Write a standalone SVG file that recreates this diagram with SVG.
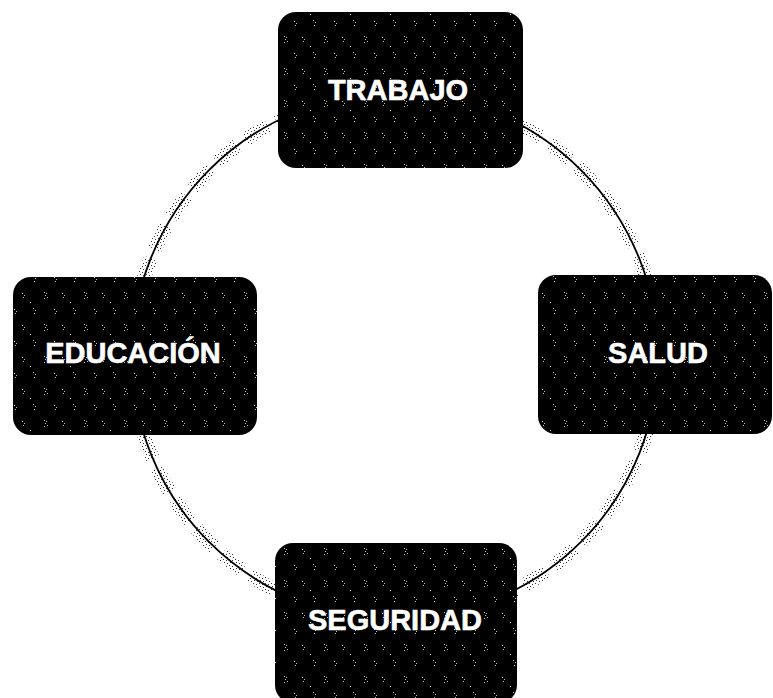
<svg xmlns="http://www.w3.org/2000/svg" width="773" height="698" viewBox="0 0 773 698">
  <defs>
    <pattern id="speck" width="40" height="32" patternUnits="userSpaceOnUse">
      <rect x="4" y="4" width="1" height="1" fill="#fff"/>
      <rect x="6" y="5" width="1" height="1" fill="#fff"/>
      <rect x="5" y="7" width="1" height="1" fill="#fff"/>
      <rect x="7" y="9" width="1" height="1" fill="#fff"/>
      <rect x="4" y="10" width="1" height="1" fill="#fff"/>
      <rect x="22" y="5" width="1" height="1" fill="#fff"/>
      <rect x="24" y="7" width="1" height="1" fill="#fff"/>
      <rect x="23" y="9" width="1" height="1" fill="#fff"/>
      <rect x="14" y="21" width="1" height="1" fill="#fff"/>
      <rect x="16" y="23" width="1" height="1" fill="#fff"/>
      <rect x="15" y="25" width="1" height="1" fill="#fff"/>
      <rect x="33" y="20" width="1" height="1" fill="#fff"/>
      <rect x="35" y="22" width="1" height="1" fill="#fff"/>
      <rect x="34" y="25" width="1" height="1" fill="#fff"/>
      <rect x="30" y="14" width="1" height="1" fill="#fff"/>
    </pattern>
    <pattern id="halo" width="6" height="6" patternUnits="userSpaceOnUse">
      <rect x="1" y="1" width="1" height="1" fill="#333"/>
      <rect x="4" y="2" width="1" height="1" fill="#333"/>
      <rect x="2" y="4" width="1" height="1" fill="#333"/>
      <rect x="5" y="5" width="1" height="1" fill="#333"/>
    </pattern>
  </defs>
  <style>
    .box { fill: #000; }
    .tex { fill: url(#speck); opacity: 0.75; }
    .lbl { font-family: "Liberation Sans", Arial, sans-serif; font-weight: bold; font-size: 29px; fill: #fff; text-anchor: middle; stroke: #fff; stroke-width: 0.6; }
  </style>
  <rect width="773" height="698" fill="#fff"/>
  <g id="connectors">
    <circle cx="395" cy="356" r="263" fill="none" stroke="url(#halo)" stroke-width="14" stroke-dasharray="26 10"/>
    <circle cx="395" cy="356" r="263" fill="none" stroke="#000" stroke-width="1.8"/>
  </g>
  <g id="trabajo">
    <rect class="box" x="278" y="12" width="245" height="156" rx="18"/>
    <rect class="tex" x="278" y="12" width="245" height="156" rx="18"/>
    <text class="lbl" x="398" y="100">TRABAJO</text>
  </g>
  <g id="educacion">
    <rect class="box" x="13" y="277" width="244" height="158" rx="18"/>
    <rect class="tex" x="13" y="277" width="244" height="158" rx="18"/>
    <text class="lbl" x="133" y="363">EDUCACIÓN</text>
  </g>
  <g id="salud">
    <rect class="box" x="538" y="275" width="234" height="159" rx="18"/>
    <rect class="tex" x="538" y="275" width="234" height="159" rx="18"/>
    <text class="lbl" x="658" y="363">SALUD</text>
  </g>
  <g id="seguridad">
    <rect class="box" x="275" y="543" width="242" height="160" rx="18"/>
    <rect class="tex" x="275" y="543" width="242" height="160" rx="18"/>
    <text class="lbl" x="395" y="630">SEGURIDAD</text>
  </g>
</svg>
